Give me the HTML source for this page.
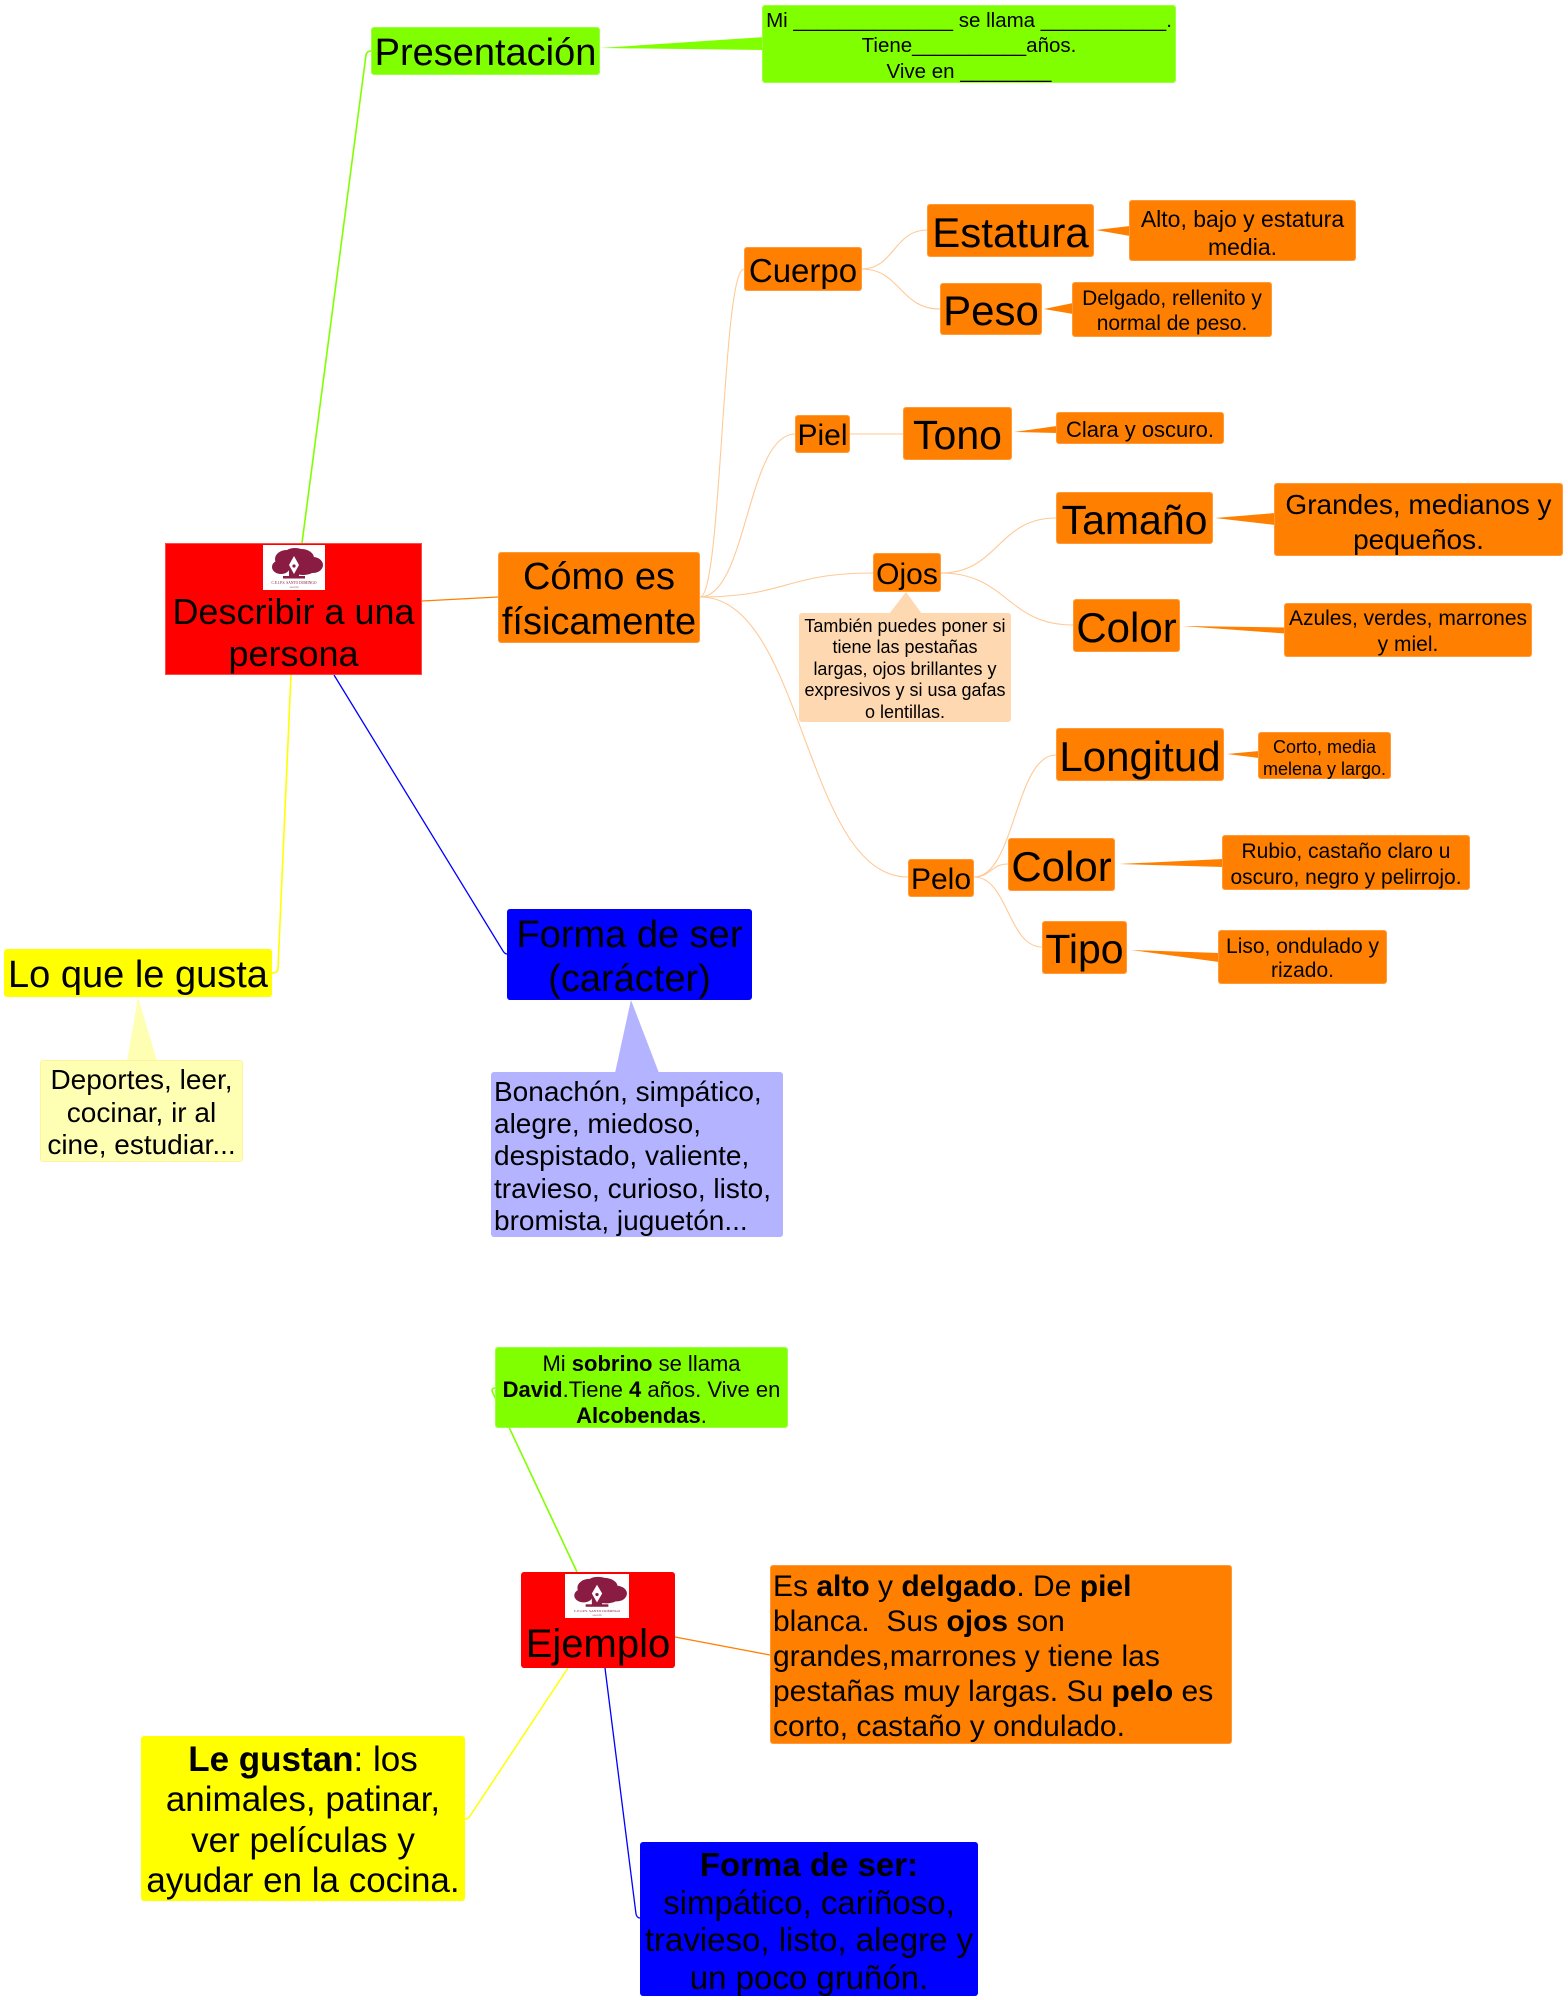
<!DOCTYPE html>
<html><head><meta charset="utf-8">
<style>
html,body{margin:0;padding:0;background:#fff;}
body{width:1568px;height:2000px;position:relative;overflow:hidden;font-family:"Liberation Sans",Arial,sans-serif;color:#000;}
.b{position:absolute;display:flex;align-items:center;justify-content:center;text-align:center;border-radius:3px;box-sizing:border-box;white-space:nowrap;padding-top:4px;}
.b>div{white-space:nowrap;}
.o{background:#ff8000;border:1px solid #ff9a3a;}
.g{background:#80ff00;border:1px solid #9aff40;}
svg.c{position:absolute;left:0;top:0;}
.logo{position:absolute;}
</style></head><body>

<svg class="c" width="1568" height="2000" viewBox="0 0 1568 2000">
  <g fill="none">
    <path d="M302,543 L366,55 Q367,51 371,51" stroke="#80ff00" stroke-width="1.6"/>
    <path d="M422,601 L498,597" stroke="#ff8000" stroke-width="1.2"/>
    <path d="M291,675 L278,968 Q278,973 272,973" stroke="#ffff00" stroke-width="1.6"/>
    <path d="M334,675 L503,951 Q505,954 507,954" stroke="#0000ff" stroke-width="1.3"/>
    <g stroke="#ffc996" stroke-width="1.1">
      <path d="M700,597 C722,597 722,269 744,269"/>
      <path d="M700,597 C747,597 747,434 795,434"/>
      <path d="M700,597 C786,597 786,573 873,573"/>
      <path d="M700,597 C804,597 804,877 908,877"/>
      <path d="M862,269 C894,269 894,230 927,230"/>
      <path d="M862,269 C900,269 900,309 940,309"/>
      <path d="M850,434 L903,434"/>
      <path d="M941,573 C998,573 998,518 1056,518"/>
      <path d="M941,573 C1007,573 1007,625 1073,625"/>
      <path d="M974,877 C1015,877 1015,755 1056,755"/>
      <path d="M974,877 C991,877 991,864 1008,864"/>
      <path d="M974,877 C1008,877 1008,947 1042,947"/>
    </g>
    <path d="M577,1572 L492,1391 Q492,1388 495,1388" stroke="#80ff00" stroke-width="1.6"/>
    <path d="M675,1637 L770,1655" stroke="#ff8000" stroke-width="1.3"/>
    <path d="M568,1668 L470,1816 Q468,1819 465,1819" stroke="#ffff00" stroke-width="1.5"/>
    <path d="M605,1668 L636,1914 Q637,1918 640,1918" stroke="#0000ff" stroke-width="1.3"/>
  </g>
  <polygon points="600,48 764,37 764,50" fill="#80ff00"/>
  <polygon points="1096,230 1130,226 1130,236" fill="#ff8000"/>
  <polygon points="1044,309 1073,303 1073,314" fill="#ff8000"/>
  <polygon points="1014,432 1057,426 1057,433" fill="#ff8000"/>
  <polygon points="1215,518 1275,513 1275,525" fill="#ff8000"/>
  <polygon points="1182,626 1285,627.5 1285,633.5" fill="#ff8000"/>
  <polygon points="1227,754 1259,751 1259,758" fill="#ff8000"/>
  <polygon points="1119,864 1223,859 1223,867" fill="#ff8000"/>
  <polygon points="1131,950 1219,953 1219,962" fill="#ff8000"/>
  <polygon points="906,592 889,614 922,614" fill="#fed8b0"/>
  <polygon points="138,997 127,1061 157,1061" fill="#ffffb3"/>
  <polygon points="631,1000 615,1073 659,1073" fill="#b3b3ff"/>
</svg>

<div class="b g" style="left:371px;top:27px;width:229px;height:48px;font-size:38px;">Presentación</div>
<div class="b g" style="left:762px;top:5px;width:414px;height:78px;font-size:20.5px;line-height:25.5px;"><div>Mi ______________ se llama ___________.<br>Tiene__________años.<br>Vive en ________</div></div>

<div class="b" style="left:165px;top:543px;width:257px;height:132px;background:#ff0000;border:1px solid #ff4a4a;border-radius:0;display:block;padding:0;">
  <svg class="logo" style="left:97px;top:1px;" width="62" height="45" viewBox="0 0 62 45">
    <rect width="62" height="45" fill="#fff"/>
    <g fill="#8a1c43">
      <ellipse cx="24" cy="14" rx="12" ry="9"/>
      <ellipse cx="38" cy="13" rx="13" ry="9"/>
      <ellipse cx="50" cy="20" rx="10" ry="8"/>
      <ellipse cx="18" cy="22" rx="9" ry="7"/>
      <ellipse cx="32" cy="8" rx="10" ry="5"/>
      <ellipse cx="40" cy="24" rx="12" ry="6"/>
      <rect x="26" y="22" width="10" height="11"/>
      <rect x="20" y="31" width="22" height="2.5"/>
    </g>
    <path d="M31,11 L36,20 L31,29 L26,20 Z" fill="#fff"/>
    <circle cx="31" cy="21" r="1.6" fill="#8a1c43"/>
    <text x="31" y="39" font-size="3.6" text-anchor="middle" fill="#8a1c43" font-family="Liberation Serif,serif">C.E.I.P.S. SANTO DOMINGO</text>
    <text x="31" y="43" font-size="2.5" text-anchor="middle" fill="#8a1c43" font-family="Liberation Serif,serif">ALGETE</text>
  </svg>
  <div style="position:absolute;left:0;top:47px;width:100%;text-align:center;font-size:36px;line-height:42px;">Describir a una<br>persona</div>
</div>

<div class="b o" style="left:498px;top:552px;width:202px;height:91px;font-size:38px;line-height:45px;"><div>Cómo es<br>físicamente</div></div>

<div class="b o" style="left:744px;top:247px;width:118px;height:44px;font-size:33px;">Cuerpo</div>
<div class="b o" style="left:927px;top:204px;width:167px;height:53px;font-size:42px;">Estatura</div>
<div class="b o" style="left:1129px;top:200px;width:227px;height:61px;font-size:23px;line-height:28px;"><div>Alto, bajo y estatura<br>media.</div></div>
<div class="b o" style="left:940px;top:283px;width:102px;height:52px;font-size:42px;">Peso</div>
<div class="b o" style="left:1072px;top:282px;width:200px;height:55px;font-size:21px;line-height:24.5px;"><div>Delgado, rellenito y<br>normal de peso.</div></div>

<div class="b o" style="left:795px;top:415px;width:55px;height:38px;font-size:30px;">Piel</div>
<div class="b o" style="left:903px;top:407px;width:109px;height:53px;font-size:41px;">Tono</div>
<div class="b o" style="left:1056px;top:412px;width:168px;height:32px;font-size:22px;">Clara y oscuro.</div>

<div class="b o" style="left:873px;top:553px;width:68px;height:39px;font-size:30px;">Ojos</div>
<div class="b" style="left:799px;top:613px;width:212px;height:109px;font-size:18px;line-height:21.5px;background:#fed8b0;"><div>También puedes poner si<br>tiene las pestañas<br>largas, ojos brillantes y<br>expresivos y si usa gafas<br>o lentillas.</div></div>
<div class="b o" style="left:1056px;top:492px;width:157px;height:52px;font-size:41px;">Tamaño</div>
<div class="b o" style="left:1274px;top:483px;width:289px;height:73px;font-size:28px;line-height:35px;"><div>Grandes, medianos y<br>pequeños.</div></div>
<div class="b o" style="left:1073px;top:599px;width:107px;height:53px;font-size:42px;">Color</div>
<div class="b o" style="left:1284px;top:603px;width:248px;height:54px;font-size:21px;line-height:26px;"><div>Azules, verdes, marrones<br>y miel.</div></div>

<div class="b o" style="left:908px;top:859px;width:66px;height:38px;font-size:30px;">Pelo</div>
<div class="b o" style="left:1056px;top:728px;width:168px;height:53px;font-size:42px;">Longitud</div>
<div class="b o" style="left:1258px;top:732px;width:133px;height:47px;font-size:18px;line-height:22px;"><div>Corto, media<br>melena y largo.</div></div>
<div class="b o" style="left:1008px;top:838px;width:107px;height:53px;font-size:42px;">Color</div>
<div class="b o" style="left:1222px;top:835px;width:248px;height:55px;font-size:21px;line-height:26px;"><div>Rubio, castaño claro u<br>oscuro, negro y pelirrojo.</div></div>
<div class="b o" style="left:1042px;top:921px;width:85px;height:53px;font-size:41px;">Tipo</div>
<div class="b o" style="left:1218px;top:930px;width:169px;height:54px;font-size:21px;line-height:24.5px;"><div>Liso, ondulado y<br>rizado.</div></div>

<div class="b" style="left:4px;top:949px;width:268px;height:48px;font-size:38px;background:#ffff00;">Lo que le gusta</div>
<div class="b" style="left:40px;top:1060px;width:203px;height:102px;font-size:28px;line-height:32.5px;background:#ffffb3;border:1px solid #fff3a0;"><div>Deportes, leer,<br>cocinar, ir al<br>cine, estudiar...</div></div>

<div class="b" style="left:507px;top:909px;width:245px;height:91px;font-size:38px;line-height:44px;background:#0000ff;"><div>Forma de ser<br>(carácter)</div></div>
<div class="b" style="left:491px;top:1072px;width:292px;height:165px;font-size:28px;line-height:32.3px;background:#b3b3ff;justify-content:flex-start;text-align:left;padding-left:3px;"><div>Bonachón, simpático,<br>alegre, miedoso,<br>despistado, valiente,<br>travieso, curioso, listo,<br>bromista, juguetón...</div></div>

<div class="b g" style="left:495px;top:1347px;width:293px;height:81px;font-size:22px;line-height:26px;"><div>Mi <b>sobrino</b> se llama<br><b>David</b>.Tiene <b>4</b> años. Vive en<br><b>Alcobendas</b>.</div></div>

<div class="b" style="left:521px;top:1572px;width:154px;height:96px;background:#ff0000;display:block;padding:0;">
  <svg class="logo" style="left:44px;top:2px;" width="64" height="44" viewBox="0 0 62 45" preserveAspectRatio="none">
    <rect width="62" height="45" fill="#fff"/>
    <g fill="#8a1c43">
      <ellipse cx="24" cy="14" rx="12" ry="9"/>
      <ellipse cx="38" cy="13" rx="13" ry="9"/>
      <ellipse cx="50" cy="20" rx="10" ry="8"/>
      <ellipse cx="18" cy="22" rx="9" ry="7"/>
      <ellipse cx="32" cy="8" rx="10" ry="5"/>
      <ellipse cx="40" cy="24" rx="12" ry="6"/>
      <rect x="26" y="22" width="10" height="11"/>
      <rect x="20" y="31" width="22" height="2.5"/>
    </g>
    <path d="M31,11 L36,20 L31,29 L26,20 Z" fill="#fff"/>
    <circle cx="31" cy="21" r="1.6" fill="#8a1c43"/>
    <text x="31" y="39" font-size="3.6" text-anchor="middle" fill="#8a1c43" font-family="Liberation Serif,serif">C.E.I.P.S. SANTO DOMINGO</text>
    <text x="31" y="43" font-size="2.5" text-anchor="middle" fill="#8a1c43" font-family="Liberation Serif,serif">ALGETE</text>
  </svg>
  <div style="position:absolute;left:0;top:50px;width:100%;text-align:center;font-size:40px;line-height:44px;">Ejemplo</div>
</div>

<div class="b o" style="left:770px;top:1565px;width:462px;height:179px;font-size:30px;line-height:35px;justify-content:flex-start;text-align:left;padding-left:2px;"><div>Es <b>alto</b> y <b>delgado</b>. De <b>piel</b><br>blanca.&nbsp; Sus <b>ojos</b> son<br>grandes,marrones y tiene las<br>pestañas muy largas. Su <b>pelo</b> es<br>corto, castaño y ondulado.</div></div>

<div class="b" style="left:141px;top:1736px;width:324px;height:165px;font-size:35px;line-height:40.5px;background:#ffff00;"><div><b>Le gustan</b>: los<br>animales, patinar,<br>ver películas y<br>ayudar en la cocina.</div></div>

<div class="b" style="left:640px;top:1842px;width:338px;height:154px;font-size:33px;line-height:37.5px;background:#0000ff;"><div><b>Forma de ser:</b><br>simpático, cariñoso,<br>travieso, listo, alegre y<br>un poco gruñón.</div></div>

</body></html>
